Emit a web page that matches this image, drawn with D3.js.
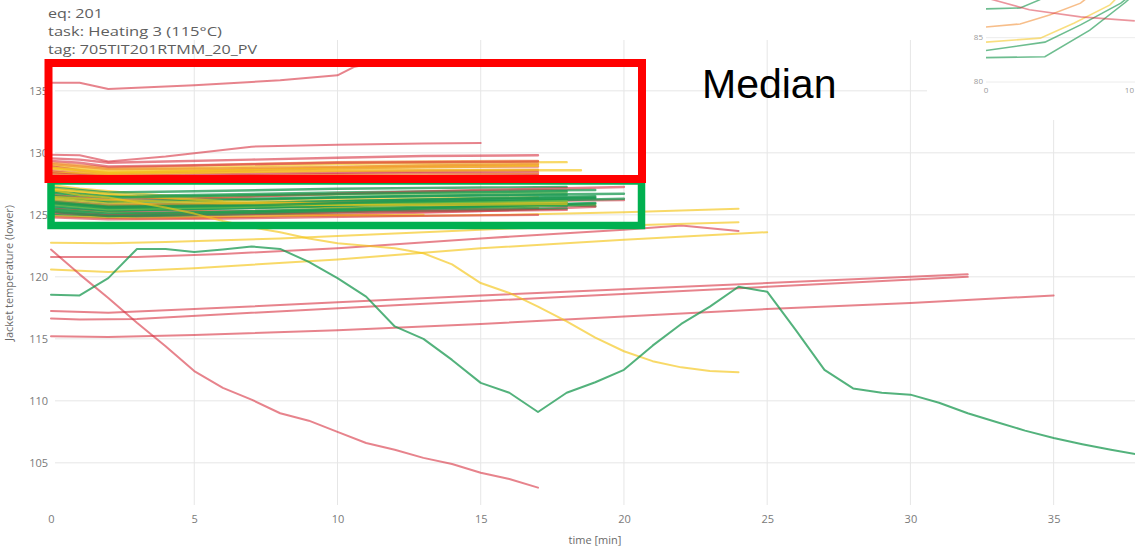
<!DOCTYPE html>
<html><head><meta charset="utf-8">
<script src="https://cdn.jsdelivr.net/npm/d3@7"></script>
<style>body{margin:0;background:#fff;overflow:hidden}svg{display:block}</style>
</head><body>
<svg id="c" width="1135" height="548"></svg>
<script>
// ---------- data ----------
const titleLines = ["eq: 201", "task: Heating 3 (115°C)", "tag: 705TIT201RTMM_20_PV"];
const xTicks = [0, 5, 10, 15, 20, 25, 30, 35];
const yTicks = [105, 110, 115, 120, 125, 130, 135];
const xTitle = "time [min]";
const yTitle = "Jacket temperature (lower)";
const annotation = "Median";

// isolated series [time, value]
const pinkTop   = [[0,135.65],[1,135.65],[2,135.15],[5,135.45],[8,135.85],[10,136.25],[10.6,136.95],[11.2,137.2]];
const pink131   = [[0,129.85],[1,129.8],[2,129.3],[4,129.7],[7,130.5],[10,130.65],[13,130.75],[15,130.8]];
const yellowA   = [[0,122.75],[2,122.7],[4,122.8],[8,123.1],[12,123.5],[16,123.9],[20,124.15],[24,124.4]];
const yellowB   = [[0,126.0],[3,125.6],[6,125.2],[9,125.0],[12,124.9],[16,125.0],[20,125.2],[24,125.5]];
const yellowC   = [[0,120.6],[2,120.4],[5,120.7],[10,121.4],[15,122.3],[20,123.0],[25,123.6]];
const redE      = [[0,121.6],[3,121.6],[6,121.85],[10,122.3],[15,123.1],[20,123.8],[22,124.15],[24,123.7]];
const yellowDrop = [[0,127.0],[1,126.6],[2,126.4],[3,126.0],[4,125.6],[5,125.1],[6,124.5],[7,124.0],[8,123.6],[9,123.1],[10,122.7],[11,122.5],[12,122.3],[13,121.9],[14,121.0],[15,119.5],[16,118.7],[17,117.6],[18,116.4],[19,115.1],[20,114.0],[21,113.2],[22,112.7],[23,112.4],[24,112.3]];
const greenWave = [[0,118.55],[1,118.5],[2,119.9],[3,122.25],[4,122.25],[5,122.0],[6,122.2],[7,122.45],[8,122.25],[9,121.2],[10,119.9],[11,118.4],[12,116.0],[13,115.0],[14,113.3],[15,111.45],[16,110.65],[17,109.1],[18,110.65],[19,111.5],[20,112.5],[21,114.45],[22,116.2],[23,117.6],[24,119.2],[25,118.8],[26,115.7],[27,112.5],[28,111.0],[29,110.65],[30,110.5],[31,109.85],[32,109.0],[33,108.3],[34,107.6],[35,107.0],[36,106.5],[37,106.05],[38,105.65]];
const pinkDrop  = [[0,122.2],[1,120.2],[2,118.3],[3,116.3],[4,114.4],[5,112.4],[6,111.05],[7,110.1],[8,109.0],[9,108.4],[10,107.5],[11,106.6],[12,106.05],[13,105.4],[14,104.9],[15,104.2],[16,103.7],[17,103.0]];
const red1 = [[0,117.25],[2,117.1],[5,117.4],[10,117.95],[15,118.5],[20,119.0],[25,119.5],[32,120.2]];
const red2 = [[0,116.65],[1,116.55],[3,116.6],[7,117.1],[12,117.7],[18,118.4],[25,119.2],[32,120.0]];
const red3 = [[0,115.2],[2,115.15],[5,115.3],[10,115.7],[15,116.2],[20,116.8],[25,117.4],[30,117.9],[35,118.5]];

// dense band series (upper: red box, lower: green box)
const bandColors = ["red","orange","yellow","red","yellow","orange","red","yellow","red","orange","red","yellow","orange","red",
  "yellow","green","yellow","green","lgreen","red","green","green","yellow","red","green","green","red","green","lgreen","red","green","green","orange","green","yellow","red",
  "green","yellow","green","lgreen","green","red","green","green","yellow","green"];
const bandPoints = [
  [[0,129.55],[1,129.45],[2,129.2],[4,129.3],[7,129.45],[10,129.6],[13,129.75],[17,129.8]],
  [[0,129.2],[1,129.0],[2,128.8],[4,128.9],[7,129.1],[10,129.25],[13,129.3],[17,129.35]],
  [[0,129.0],[1,128.8],[2,128.6],[4,128.7],[7,128.9],[10,129.1],[13,129.2],[18,129.25]],
  [[0,128.9],[1,128.6],[2,128.35],[4,128.45],[7,128.6],[10,128.75],[13,128.85],[17,128.9]],
  [[0,128.75],[1,128.55],[2,128.4],[4,128.5],[7,128.7],[10,128.85],[13,129.0],[17,129.05]],
  [[0,128.6],[1,128.4],[2,128.2],[4,128.3],[7,128.45],[10,128.55],[13,128.6],[17,128.65]],
  [[0,128.5],[1,128.3],[2,128.15],[4,128.2],[7,128.3],[10,128.4],[13,128.5],[17,128.55]],
  [[0,128.4],[2,128.3],[5,128.4],[10,128.55],[15,128.6],[18.5,128.6]],
  [[0,128.35],[1,128.2],[2,128.05],[4,128.1],[7,128.2],[10,128.3],[13,128.35],[17,128.4]],
  [[0,128.25],[2,128.0],[5,128.1],[10,128.2],[17,128.3]],
  [[0,128.15],[2,127.9],[6,128.0],[12,128.1],[17,128.2]],
  [[0,128.8],[2,128.45],[6,128.6],[12,128.8],[17,128.95]],
  [[0,129.1],[2,128.7],[6,128.75],[12,128.95],[17,129.1]],
  [[0,129.35],[1,129.2],[2,128.9],[5,129.0],[10,129.2],[17,129.3]],
  [[0,127.4],[1,127.1],[3,126.7],[5,126.4],[8,126.2],[12,126.3],[17,126.4]],
  [[0,127.2],[2,126.8],[5,126.9],[10,127.1],[15,127.2],[18,127.25]],
  [[0,127.0],[2,126.6],[4,126.3],[7,125.8],[10,125.6],[14,125.7],[19,125.8]],
  [[0,126.9],[2,126.5],[5,126.6],[10,126.8],[15,126.95],[19,127.0]],
  [[0,126.7],[2,126.3],[6,126.5],[12,126.7],[18,126.8]],
  [[0,126.6],[2,126.2],[5,126.3],[10,126.7],[15,127.0],[20,127.25]],
  [[0,126.4],[2,126.0],[5,126.1],[10,126.4],[15,126.6],[20,126.7]],
  [[0,126.2],[2,125.8],[5,125.9],[10,126.1],[15,126.3],[19,126.4]],
  [[0,126.3],[2,126.0],[4,125.8],[8,125.6],[12,125.5],[17,125.6]],
  [[0,125.9],[2,125.6],[5,125.7],[10,125.9],[15,126.1],[20,126.2]],
  [[0,125.8],[2,125.5],[5,125.6],[10,125.8],[15,125.9],[19,125.7]],
  [[0,125.6],[2,125.3],[6,125.5],[12,125.8],[18,126.0]],
  [[0,125.5],[2,125.2],[6,125.3],[12,125.4],[17,125.5]],
  [[0,125.3],[2,125.0],[6,125.2],[12,125.5],[18,125.7]],
  [[0,125.4],[3,125.1],[8,125.3],[14,125.6],[18,125.8]],
  [[0,125.1],[2,124.9],[5,124.8],[10,125.0],[15,125.3],[19,125.65]],
  [[0,125.0],[2,124.8],[6,125.0],[12,125.3],[18,125.5]],
  [[0,126.0],[2,125.7],[6,125.9],[12,126.2],[19,126.5]],
  [[0,126.1],[2,125.8],[6,125.9],[12,126.0],[17,126.1]],
  [[0,125.7],[2,125.35],[6,125.5],[12,125.9],[20,126.3]],
  [[0,124.9],[3,124.7],[8,124.9],[13,125.0]],
  [[0,124.8],[2,124.65],[6,124.7],[12,124.9],[17,125.0]],
  [[0,126.55],[2,126.1],[6,126.25],[12,126.5],[18,126.6]],
  [[0,127.1],[1,126.9],[3,126.5],[6,126.1],[10,125.9],[15,126.0],[18,126.05]],
  [[0,126.05],[2,125.65],[6,125.75],[12,126.0],[18,126.2]],
  [[0,125.85],[2,125.45],[6,125.6],[12,125.95],[18,126.15]],
  [[0,125.45],[2,125.1],[6,125.25],[12,125.6],[19,125.9]],
  [[0,125.2],[2,124.95],[6,125.05],[12,125.25],[18,125.4]],
  [[0,126.8],[2,126.4],[6,126.55],[12,126.75],[18,126.9]],
  [[0,125.25],[2,124.9],[6,125.1],[12,125.45],[19,125.95]],
  [[0,126.45],[2,126.2],[5,126.0],[9,125.8],[14,125.8],[18,125.9]],
  [[0,125.95],[2,125.55],[6,125.7],[12,126.05],[19,126.35]]
];

// inset (partial second panel, top right)
const insetXTicks = [0, 10];
const insetYTicks = [80, 85];
const insetColors = ["green","green","yellow","orange","green","red"];
const insetPoints = [
  [[0,82.75],[3.8,82.85],[6.7,85.85],[9.0,89.0],[9.5,89.8]],
  [[0,83.55],[3.8,84.5],[6.1,86.45],[8.7,88.9],[9.2,89.6]],
  [[0,84.5],[3.5,84.95],[5.7,86.65],[8.0,88.7],[8.5,89.6]],
  [[0,86.2],[2.2,86.55],[4.1,87.55],[6.1,88.9],[6.6,89.6]],
  [[0,88.25],[2.2,88.35],[3.5,89.3]],
  [[0,89.5],[2.8,88.15],[6.1,87.35],[9.6,86.9]]
];

// ---------- drawing ----------
const colors = {red:"#d7303f", orange:"#f08a2c", yellow:"#f4c417", green:"#1a9850", lgreen:"#6fbf4a"};
const opac = {red:0.6, orange:0.65, yellow:0.65, green:0.75, lgreen:0.7};

const svg = d3.select("#c");
const x = d3.scaleLinear().domain([0, 37.84]).range([51, 1135]);
const y = d3.scaleLinear().domain([101.6, 139.1]).range([505, 40]);
const font = "'Open Sans', 'DejaVu Sans', sans-serif";

// grid
const grid = svg.append("g");
grid.selectAll("line.v").data(xTicks.filter(d => d > 0)).join("line")
  .attr("x1", d => x(d)).attr("x2", d => x(d)).attr("y1", 40).attr("y2", 505)
  .attr("stroke", "#e6e6e6").attr("stroke-width", 1);
grid.selectAll("line.h").data(yTicks).join("line")
  .attr("x1", 55).attr("x2", 1135).attr("y1", d => y(d)).attr("y2", d => y(d))
  .attr("stroke", "#e6e6e6").attr("stroke-width", 1);

// axes labels
const yAxis = d3.axisLeft(y).tickValues(yTicks).tickSize(0).tickPadding(3);
const yg = svg.append("g").attr("transform", "translate(51,0)").call(yAxis);
yg.select(".domain").remove();
yg.selectAll("text").attr("font-family", font).attr("font-size", 11).attr("fill", "#7a7a7a");
const xAxis = d3.axisBottom(x).tickValues(xTicks).tickSize(0).tickPadding(0);
const xg = svg.append("g").attr("transform", "translate(0,515)").call(xAxis);
xg.select(".domain").remove();
xg.selectAll("text").attr("font-family", font).attr("font-size", 11).attr("fill", "#7a7a7a");

svg.append("text").attr("x", 595).attr("y", 544).attr("text-anchor", "middle")
  .attr("font-family", font).attr("font-size", 11).attr("fill", "#6a6a6a").text(xTitle);
svg.append("text").attr("transform", "translate(13,273) rotate(-90)").attr("text-anchor", "middle")
  .attr("font-family", font).attr("font-size", 11).attr("fill", "#6a6a6a").text(yTitle);

// lines
const line = d3.line().x(d => x(d[0])).y(d => y(d[1]));
const plot = svg.append("g").attr("fill", "none").attr("stroke-width", 2)
  .attr("stroke-linejoin", "round").attr("stroke-linecap", "round");
function draw(pts, c, w) {
  plot.append("path").attr("d", line(pts)).attr("stroke", colors[c]).attr("stroke-opacity", opac[c])
    .attr("stroke-width", w || 2);
}
draw(red3, "red"); draw(red2, "red"); draw(red1, "red");
draw(yellowC, "yellow"); draw(redE, "red"); draw(yellowA, "yellow"); draw(yellowB, "yellow");
draw(pinkTop, "red"); draw(pink131, "red");
bandPoints.forEach((p, i) => draw(p, bandColors[i], 2.4));
draw(yellowDrop, "yellow");
draw(pinkDrop, "red");
draw(greenWave, "green");

// title (text in the reference is horizontally stretched)
const titleWidths = [55, 174, 209];
svg.append("g").selectAll("text").data(titleLines).join("text")
  .attr("x", 48).attr("y", (d, i) => 18 + i * 18)
  .attr("textLength", (d, i) => titleWidths[i]).attr("lengthAdjust", "spacingAndGlyphs")
  .attr("font-family", font).attr("font-size", 13.5).attr("fill", "#5e5e5e").text(d => d);

// annotation boxes
svg.append("rect").attr("x", 51).attr("y", 181).attr("width", 590.5).attr("height", 44.5)
  .attr("fill", "none").attr("stroke", "#00b050").attr("stroke-width", 7.5);
svg.append("rect").attr("x", 48.5).attr("y", 63).attr("width", 593.5).attr("height", 116)
  .attr("fill", "none").attr("stroke", "#ff0000").attr("stroke-width", 8);
svg.append("text").attr("x", 702).attr("y", 98).attr("font-family", "'Liberation Sans', Arial, sans-serif")
  .attr("font-size", 41).attr("fill", "#000").text(annotation);

// inset
const inset = svg.append("g");
inset.append("rect").attr("x", 927).attr("y", 0).attr("width", 208).attr("height", 120).attr("fill", "#fff");
const ix = d3.scaleLinear().domain([0, 10]).range([986, 1141]);
const iy = d3.scaleLinear().domain([80, 85]).range([82, 37.7]);
inset.selectAll("line").data(insetYTicks).join("line")
  .attr("x1", 986).attr("x2", 1135).attr("y1", d => iy(d)).attr("y2", d => iy(d))
  .attr("stroke", "#ececec");
inset.selectAll("text.iy").data(insetYTicks).join("text").attr("class", "iy")
  .attr("x", 983).attr("y", d => iy(d) + 2).attr("text-anchor", "end")
  .attr("font-family", font).attr("font-size", 8).attr("fill", "#999").text(d => d);
inset.selectAll("text.ix").data(insetXTicks).join("text").attr("class", "ix")
  .attr("x", d => Math.min(ix(d), 1134)).attr("y", 93)
  .attr("text-anchor", d => ix(d) > 1134 ? "end" : "middle")
  .attr("font-family", font).attr("font-size", 8).attr("fill", "#999").text(d => d);
const iline = d3.line().x(d => ix(d[0])).y(d => iy(d[1]));
insetPoints.forEach((p, i) => {
  inset.append("path").attr("d", iline(p)).attr("fill", "none").attr("stroke-width", 1.6)
    .attr("stroke", colors[insetColors[i]]).attr("stroke-opacity", opac[insetColors[i]] * 0.85);
});
</script>
</body></html>
